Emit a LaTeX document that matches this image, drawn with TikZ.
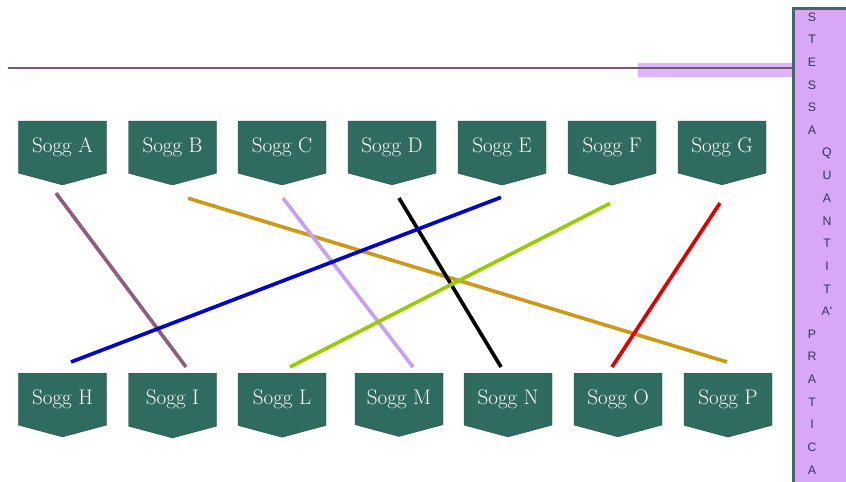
\documentclass[tikz,border=0pt]{standalone}
\usepackage{fontspec}
\usepackage{xcolor}
\usepackage{tikz}
\usetikzlibrary{shapes.symbols,calc}
\newfontfamily\sidefont{Liberation Sans}
\definecolor{soggteal}{HTML}{2F6B5E}
\definecolor{sidelilac}{HTML}{D8A8F6}
\definecolor{sideedge}{HTML}{3E6A66}
\definecolor{rulemauve}{HTML}{6F5878}
\tikzset{
  soggbox/.style={shape=signal, signal to=south, signal from=nowhere,
    signal pointer angle=150, fill=soggteal, draw=soggteal!80!black, thin,
    text=white, minimum width=2.64cm, minimum height=1.80cm, inner sep=0pt,
    font=\fontsize{18}{20}\selectfont, anchor=north},
  pairline/.style={line width=1.1mm, line cap=butt},
  sideletter/.style={font=\sidefont\fontsize{10.5}{12}\selectfont, text=black!65!blue!60!gray, inner sep=0pt},
}
\begin{document}
\begin{tikzpicture}[x=0.03cm, y=-0.03cm]
  \useasboundingbox (0,0) rectangle (846,482);

  % ============ Title rule and side band ============
  \fill[sidelilac!85] (638,63) rectangle (793,77);
  \draw[rulemauve, line width=0.6mm] (8,68.5) -- (793,68.5);
  \fill[sidelilac] (793,8) rectangle (850,490);
  \draw[sideedge, line width=0.7mm] (793.5,490) -- (793.5,8.5) -- (850,8.5);

  % ============ Side band letters ============
  \foreach \ch [count=\i from 0] in {S,T,E,S,S,A}
    \node[sideletter] (sl\i) at (812, 17+22.65*\i) {\ch};
  \foreach \ch [count=\i from 6] in {Q,U,A,N,T,I,T,A'}
    \node[sideletter] (sl\i) at (827, 17+22.65*\i) {\ch};
  \foreach \ch [count=\i from 14] in {P,R,A,T,I,C,A}
    \node[sideletter] (sl\i) at (812, 17+22.65*\i) {\ch};

  % ============ Row 1: top subjects (y = 121) ============
  \node[soggbox] (a) at ( 62.5, 121) {Sogg A};
  \node[soggbox] (b) at (172.5, 121) {Sogg B};
  \node[soggbox] (c) at (282,   121) {Sogg C};
  \node[soggbox] (d) at (392,   121) {Sogg D};
  \node[soggbox] (e) at (502,   121) {Sogg E};
  \node[soggbox] (f) at (612,   121) {Sogg F};
  \node[soggbox] (g) at (722,   121) {Sogg G};

  % ============ Row 2: bottom subjects (y = 373) ============
  \node[soggbox] (h) at ( 62.5, 373) {Sogg H};
  \node[soggbox] (i) at (172.5, 373) {Sogg I};
  \node[soggbox] (l) at (282,   373) {Sogg L};
  \node[soggbox] (m) at (399,   373) {Sogg M};
  \node[soggbox] (n) at (508,   373) {Sogg N};
  \node[soggbox] (o) at (618,   373) {Sogg O};
  \node[soggbox] (p) at (728,   373) {Sogg P};

  % ============ Pairings (coloured straight lines) ============
  \draw[pairline, draw={rgb,255:red,140;green,95;blue,126}]
    ([shift={(-6.5,8)}]a.south) -- ([shift={(13.5,-6)}]i.north);
  \draw[pairline, draw={rgb,255:red,204;green,154;blue,26}]
    ([shift={(15.5,13)}]b.south) -- ([shift={(-1,-11)}]p.north);
  \draw[pairline, draw={rgb,255:red,200;green,160;blue,240}]
    ([shift={(1,13)}]c.south) -- ([shift={(14,-6)}]m.north);
  \draw[pairline, draw=black]
    ([shift={(7,13)}]d.south) -- ([shift={(-7,-6)}]n.north);
  \draw[pairline, draw={rgb,255:red,0;green,0;blue,204}]
    ([shift={(-1,12)}]e.south) -- ([shift={(8.5,-11)}]h.north);
  \draw[pairline, draw={rgb,255:red,153;green,204;blue,0}]
    ([shift={(-2,18)}]f.south) -- ([shift={(8,-6)}]l.north);
  \draw[pairline, draw={rgb,255:red,224;green,0;blue,0}]
    ([shift={(-2,18)}]g.south) -- ([shift={(-6,-6)}]o.north);

\end{tikzpicture}
\end{document}
